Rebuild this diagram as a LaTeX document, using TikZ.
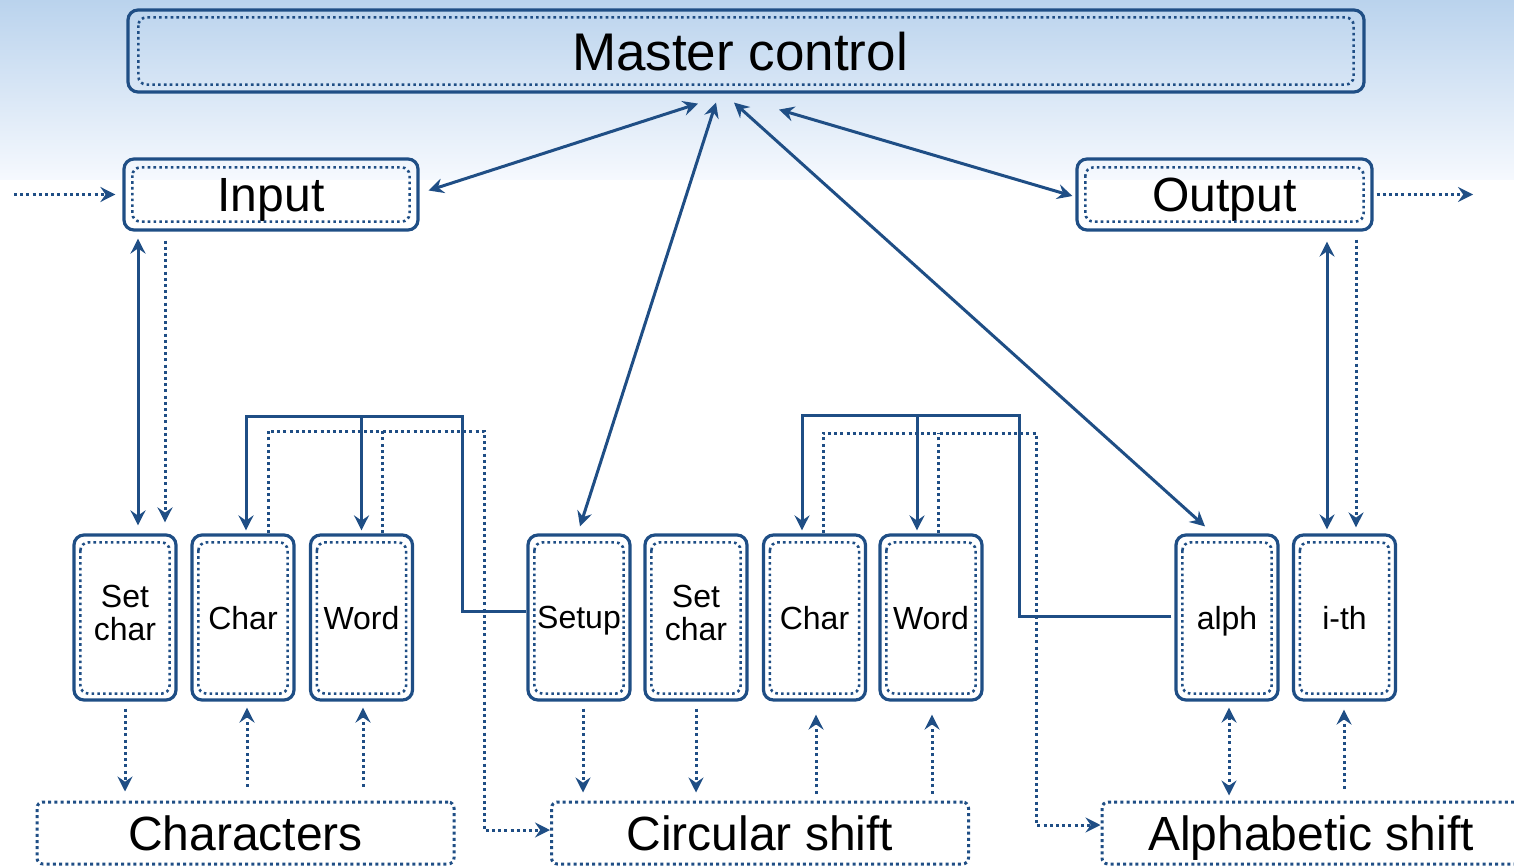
\documentclass[tikz,border=0pt]{standalone}
\usepackage{fontspec}
\setmainfont{Liberation Sans}
\usetikzlibrary{arrows.meta,calc}

\definecolor{navy}{HTML}{1F4E85}
\definecolor{skytop}{RGB}{186,211,237}
\definecolor{skybot}{RGB}{246,249,254}

\begin{document}
\begin{tikzpicture}[x=0.5pt,y=-0.5pt,
  >={Stealth[length=7.5pt,width=7.5pt,inset=2.6pt]},
  wire/.style={draw=navy, line width=1.5pt},
  dots/.style={draw=navy, line width=1.5pt, dash pattern=on 1.5pt off 1.6pt},
  outerbox/.style={draw=navy, line width=1.6pt, rounded corners=5pt,
    inner sep=0pt, align=center, text depth=0pt},
  bigbox/.style={outerbox, font=\fontsize{24}{28}\selectfont},
  modbox/.style={outerbox, minimum width=51pt, minimum height=82.5pt,
    font=\fontsize{16}{16.5}\selectfont},
  twoline/.style={text depth=4.5pt},
  datbox/.style={dots, rounded corners=3pt, inner sep=0pt, text depth=0pt,
    minimum width=208.5pt, minimum height=31pt,
    font=\fontsize{24}{28}\selectfont},
  innerframe/.style={dots, line width=1.3pt, dash pattern=on 1.3pt off 1.6pt, rounded corners=4pt}
]
\useasboundingbox (0,0) rectangle (1514,866);

% sky backdrop
\shade[top color=skytop, bottom color=skybot] (0,0) rectangle (1514,180);

% control modules
\node[bigbox, minimum width=618pt, minimum height=41pt,
  font=\fontsize{26.5}{30}\selectfont] (master) at (746,51) {\kern-6pt Master control};
\node[bigbox, minimum width=147pt, minimum height=35.5pt] (input) at (271,194.5) {Input};
\node[bigbox, minimum width=147.5pt, minimum height=35.5pt] (output) at (1224.5,194.5) {Output};

\node[modbox, twoline] (sc1) at (125,617.5) {Set\\char};
\node[modbox] (ch1) at (243,617.5) {Char};
\node[modbox] (wd1) at (361.5,617.5) {Word};
\node[modbox] (setup) at (579,617.5) {Setup};
\node[modbox, twoline] (sc2) at (696,617.5) {Set\\char};
\node[modbox] (ch2) at (814.5,617.5) {Char};
\node[modbox] (wd2) at (931,617.5) {Word};
\node[modbox] (alph) at (1227,617.5) {alph};
\node[modbox] (ith) at (1344.5,617.5) {i-th};

% dotted inner frames
\foreach \n/\dx/\dy in {master/12/9, input/10/10, output/10/10}
  \draw[innerframe] ([shift={(\dx,\dy)}]\n.north west) rectangle ([shift={(-\dx,-\dy)}]\n.south east);
\foreach \n in {sc1,ch1,wd1,setup,sc2,ch2,wd2,alph,ith}
  \draw[innerframe] ([shift={(8,9)}]\n.north west) rectangle ([shift={(-8,-8)}]\n.south east);

% data stores
\node[datbox] (chars) at (245.5,833) {Characters};
\node[datbox] (circ) at (760,833) {Circular shift};
\node[datbox, minimum width=209pt] (alpha) at (1311,833) {Alphabetic shift};

% external input and output
\coordinate (feedin) at (14,194.5);
\coordinate (feedout) at (1473,194.5);
\draw[dots,->] (feedin) -- ([shift={(-7,0)}]input.west);
\draw[dots,->] ([shift={(3,0)}]output.east) -- (feedout);

% master control calls
\draw[wire,<->] ([shift={(9,-4)}]input.east) -- ([shift={(-48,10)}]master.south);
\draw[wire,<->] ([shift={(-30,9)}]master.south) -- ([shift={(1,-7)}]setup.north);
\draw[wire,<->] ([shift={(-12,9)}]master.south) -- ([shift={(-22,-7)}]alph.north);
\draw[wire,<->] ([shift={(33,16)}]master.south) -- ([shift={(-3,1.5)}]output.west);

% input / output modules
\draw[wire,<->] ([shift={(-133,7)}]input.south) -- ([shift={(13,-8)}]sc1.north);
\draw[dots,->] ([shift={(-106,9)}]input.south) -- ([shift={(40,-11)}]sc1.north);
\draw[wire,<->] ([shift={(102.5,10)}]output.south) -- ([shift={(-17.5,-4)}]ith.north);
\draw[dots,->] ([shift={(131.5,8)}]output.south) -- ([shift={(11.5,-6)}]ith.north);

% setup uses the character accessors
\coordinate (j1) at (462,416);
\draw[wire,->] ([shift={(0,-6.5)}]setup.west) -| (j1) -| ([shift={(3,-3)}]ch1.north);
\draw[wire,->] (wd1.north |- j1) -- ([shift={(0,-3)}]wd1.north);
\coordinate (d1) at (484,431);
\draw[dots,->] ([shift={(25,0)}]ch1.north) |- (d1) |- ([shift={(0,-3)}]circ.west);
\draw[dots] ([shift={(20.5,0)}]wd1.north) -- ([shift={(20.5,0)}]wd1.north |- d1);

% alph uses the shift accessors
\coordinate (j2) at (1019,415);
\draw[wire,->] ([shift={(-3,-1.5)}]alph.west) -| (j2) -| ([shift={(-12.5,-3)}]ch2.north);
\draw[wire,->] ([shift={(-14,0)}]wd2.north |- j2) -- ([shift={(-14,-3)}]wd2.north);
\coordinate (d2) at (1036,433);
\draw[dots,->] ([shift={(8.5,0)}]ch2.north) |- (d2) |- ([shift={(0,-8)}]alpha.west);
\draw[dots] ([shift={(7,0)}]wd2.north) -- ([shift={(7,0)}]wd2.north |- d2);

% access to the data stores
\draw[dots,->] ([shift={(0,7)}]sc1.south) -- ([shift={(0,-9)}]sc1.south |- chars.north);
\draw[dots,->] ([shift={(4,-14)}]ch1.south |- chars.north) -- ([shift={(4,6)}]ch1.south);
\draw[dots,->] ([shift={(1.5,-14)}]wd1.south |- chars.north) -- ([shift={(1.5,6)}]wd1.south);
\draw[dots,->] ([shift={(4,7)}]setup.south) -- ([shift={(4,-8)}]setup.south |- circ.north);
\draw[dots,->] ([shift={(0,7)}]sc2.south) -- ([shift={(0,-8)}]sc2.south |- circ.north);
\draw[dots,->] ([shift={(1.5,-7)}]ch2.south |- circ.north) -- ([shift={(1.5,13)}]ch2.south);
\draw[dots,->] ([shift={(1,-7)}]wd2.south |- circ.north) -- ([shift={(1,13)}]wd2.south);
\draw[dots,<->] ([shift={(2,6)}]alph.south) -- ([shift={(2,-5)}]alph.south |- alpha.north);
\draw[dots,->] ([shift={(-0.5,-12)}]ith.south |- alpha.north) -- ([shift={(-0.5,8)}]ith.south);
\end{tikzpicture}
\end{document}
